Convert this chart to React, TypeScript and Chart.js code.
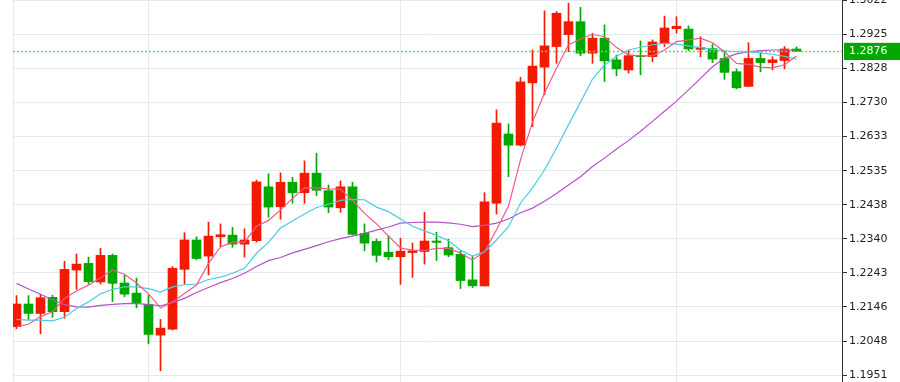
import React, { useEffect, useRef } from 'react';
import { Chart, registerables } from 'chart.js';

Chart.register(...registerables);

// ---- data ----
const opens = [
  1.2089, 1.2154, 1.2127, 1.2173, 1.2132, 1.2251, 1.2270, 1.2217, 1.2293, 1.2214,
  1.2185, 1.2153, 1.2065, 1.2082, 1.2253, 1.2337, 1.2291, 1.2346, 1.2351, 1.2325,
  1.2335, 1.2489, 1.2432, 1.2502, 1.2472, 1.2528, 1.2478, 1.2429, 1.2489, 1.2356,
  1.2333, 1.2302, 1.2289, 1.2301, 1.2304, 1.2334, 1.2315, 1.2296, 1.2223, 1.2206,
  1.2442, 1.2640, 1.2608, 1.2786, 1.2831, 1.2890, 1.2924, 1.2961, 1.2871, 1.2914,
  1.2852, 1.2823, 1.2864, 1.2861, 1.2899, 1.2941, 1.2940, 1.2882, 1.2884, 1.2856,
  1.2818, 1.2776, 1.2856, 1.2844, 1.2850, 1.2883,
];
const highs = [
  1.2178, 1.2178, 1.2182, 1.2179, 1.2276, 1.2297, 1.2288, 1.2313, 1.2297, 1.2236,
  1.2228, 1.2179, 1.2110, 1.2261, 1.2358, 1.2346, 1.2388, 1.2383, 1.2373, 1.2369,
  1.2508, 1.2526, 1.2529, 1.2516, 1.2563, 1.2585, 1.2494, 1.2506, 1.2502, 1.2383,
  1.2340, 1.2349, 1.2342, 1.2328, 1.2416, 1.2359, 1.2339, 1.2306, 1.2291, 1.2472,
  1.2709, 1.2669, 1.2802, 1.2880, 1.2992, 1.2990, 1.3014, 1.3002, 1.2928, 1.2952,
  1.2866, 1.2878, 1.2906, 1.2909, 1.2977, 1.2975, 1.2949, 1.2918, 1.2897, 1.2877,
  1.2826, 1.2901, 1.2874, 1.2861, 1.2890, 1.2889,
];
const lows = [
  1.2083, 1.2108, 1.2069, 1.2116, 1.2113, 1.2196, 1.2211, 1.2211, 1.2161, 1.2175,
  1.2143, 1.2040, 1.1963, 1.2080, 1.2211, 1.2280, 1.2237, 1.2318, 1.2316, 1.2288,
  1.2331, 1.2402, 1.2396, 1.2442, 1.2442, 1.2464, 1.2415, 1.2416, 1.2351, 1.2306,
  1.2274, 1.2280, 1.2210, 1.2230, 1.2268, 1.2278, 1.2289, 1.2198, 1.2201, 1.2205,
  1.2411, 1.2518, 1.2606, 1.2661, 1.2752, 1.2842, 1.2875, 1.2864, 1.2842, 1.2790,
  1.2806, 1.2814, 1.2809, 1.2847, 1.2890, 1.2928, 1.2878, 1.2861, 1.2844, 1.2796,
  1.2769, 1.2775, 1.2818, 1.2823, 1.2826, 1.2876,
];
const closes = [
  1.2154, 1.2127, 1.2172, 1.2132, 1.2253, 1.2268, 1.2218, 1.2293, 1.2213, 1.2182,
  1.2158, 1.2067, 1.2085, 1.2256, 1.2337, 1.2284, 1.2348, 1.2352, 1.2325, 1.2337,
  1.2503, 1.2431, 1.2502, 1.2472, 1.2528, 1.2479, 1.2431, 1.2489, 1.2353, 1.2328,
  1.2293, 1.2289, 1.2305, 1.2306, 1.2334, 1.2330, 1.2294, 1.2221, 1.2206, 1.2446,
  1.2671, 1.2608, 1.2789, 1.2834, 1.2892, 1.2985, 1.2961, 1.2871, 1.2914, 1.2849,
  1.2826, 1.2864, 1.2861, 1.2903, 1.2943, 1.2948, 1.2883, 1.2887, 1.2854, 1.2816,
  1.2772, 1.2856, 1.2844, 1.2852, 1.2883, 1.2876,
];
const ma5 = [
  1.2089, 1.2096, 1.2118, 1.2132, 1.2170, 1.2191, 1.2208, 1.2229, 1.2251, 1.2239,
  1.2214, 1.2183, 1.2143, 1.2160, 1.2184, 1.2208, 1.2270, 1.2317, 1.2331, 1.2331,
  1.2376, 1.2393, 1.2423, 1.2456, 1.2486, 1.2486, 1.2483, 1.2482, 1.2451, 1.2413,
  1.2383, 1.2348, 1.2314, 1.2308, 1.2307, 1.2313, 1.2313, 1.2299, 1.2280, 1.2303,
  1.2366, 1.2434, 1.2566, 1.2674, 1.2757, 1.2828, 1.2895, 1.2911, 1.2925, 1.2918,
  1.2887, 1.2866, 1.2863, 1.2863, 1.2880, 1.2904, 1.2909, 1.2914, 1.2901, 1.2875,
  1.2842, 1.2839, 1.2831, 1.2829, 1.2838, 1.2863,
];
const ma10 = [
  1.2110, 1.2108, 1.2108, 1.2106, 1.2116, 1.2141, 1.2160, 1.2183, 1.2196, 1.2203,
  1.2203, 1.2198, 1.2188, 1.2203, 1.2209, 1.2211, 1.2224, 1.2231, 1.2242, 1.2256,
  1.2299, 1.2330, 1.2371, 1.2391, 1.2411, 1.2430, 1.2439, 1.2450, 1.2453, 1.2452,
  1.2431, 1.2418, 1.2397, 1.2376, 1.2363, 1.2350, 1.2335, 1.2308, 1.2291, 1.2303,
  1.2337, 1.2375, 1.2442, 1.2486, 1.2537, 1.2600, 1.2666, 1.2731, 1.2797, 1.2837,
  1.2862, 1.2880, 1.2888, 1.2895, 1.2899, 1.2897, 1.2892, 1.2887, 1.2882, 1.2878,
  1.2875, 1.2875, 1.2872, 1.2868, 1.2862, 1.2854,
];
const ma20 = [
  1.2213, 1.2197, 1.2182, 1.2166, 1.2152, 1.2146, 1.2145, 1.2150, 1.2153, 1.2155,
  1.2156, 1.2152, 1.2149, 1.2158, 1.2170, 1.2187, 1.2201, 1.2215, 1.2227, 1.2242,
  1.2261, 1.2278, 1.2287, 1.2300, 1.2310, 1.2321, 1.2332, 1.2341, 1.2348, 1.2356,
  1.2365, 1.2374, 1.2385, 1.2387, 1.2388, 1.2388, 1.2386, 1.2382, 1.2375, 1.2379,
  1.2385, 1.2397, 1.2415, 1.2428, 1.2448, 1.2470, 1.2494, 1.2518, 1.2547, 1.2571,
  1.2597, 1.2621, 1.2648, 1.2676, 1.2705, 1.2734, 1.2766, 1.2799, 1.2832, 1.2857,
  1.2869, 1.2875, 1.2878, 1.2880, 1.2880, 1.2880,
];
const yTickValues = [
  1.1951, 1.2048, 1.2146, 1.2243, 1.2340, 1.2438, 1.2535, 1.2633, 1.2730, 1.2828, 1.2925, 1.3022,
];
const monthStartIndex = [11, 32, 55];
const currentPrice = 1.2876;

// ---- view range ----
const X_MIN = -0.2917;
const X_MAX = 68.7917;
const Y_MIN = 1.1931;
const Y_MAX = 1.3023;

// ---- styles ----
const UP_COLOR = '#f21a00';
const DOWN_COLOR = '#00a800';
const LABEL_GREEN = '#00a800';
const GRID = '#e2e9f0';
const MA5_COLOR = '#f0588a';
const MA10_COLOR = '#4ccbe0';
const MA20_COLOR = '#b452c8';
const PRICE_LINE = '#74cf74';

export default function App() {
  const ref = useRef<HTMLCanvasElement>(null);

  useEffect(() => {
    document.body.style.margin = '0';
    if (!ref.current) return;
    const idx = closes.map((_, i) => i);
    const colors = idx.map((i) => (closes[i] >= opens[i] ? UP_COLOR : DOWN_COLOR));
    const isPrice = (ctx: any) => !!ctx.tick && Math.abs(ctx.tick.value - currentPrice) < 1e-9;

    const lineDs = (values: number[], color: string) => ({
      type: 'line' as const,
      data: idx.map((i) => ({ x: i, y: values[i] })),
      borderColor: color,
      backgroundColor: color,
      borderWidth: 1.2,
      pointRadius: 0,
      tension: 0,
      fill: false,
    });

    const chart = new Chart(ref.current, {
      type: 'bar',
      data: {
        datasets: [
          lineDs(ma5, MA5_COLOR),
          lineDs(ma10, MA10_COLOR),
          lineDs(ma20, MA20_COLOR),
          {
            type: 'line',
            data: [
              { x: X_MIN, y: currentPrice },
              { x: X_MAX, y: currentPrice },
            ],
            borderColor: PRICE_LINE,
            borderWidth: 1.5,
            borderDash: [2, 2],
            pointRadius: 0,
            fill: false,
          } as any,
          {
            type: 'bar',
            data: idx.map((i) => ({ x: i, y: [opens[i], closes[i]] })),
            backgroundColor: colors,
            borderWidth: 0,
            barThickness: 9,
            minBarLength: 1,
            grouped: false,
            clip: 0,
          } as any,
          {
            type: 'bar',
            data: idx.map((i) => ({ x: i, y: [lows[i], highs[i]] })),
            backgroundColor: colors,
            borderWidth: 0,
            barThickness: 1,
            grouped: false,
            clip: 0,
          } as any,
        ],
      },
      options: {
        responsive: false,
        animation: false,
        events: [],
        layout: { padding: { left: 13, right: 0, top: 0, bottom: 0 } },
        plugins: { legend: { display: false }, tooltip: { enabled: false } },
        scales: {
          x: {
            type: 'linear',
            min: X_MIN,
            max: X_MAX,
            offset: false,
            grid: { color: GRID, drawTicks: false, offset: false, lineWidth: 1 },
            border: { display: false },
            ticks: { display: false },
            afterBuildTicks: (s: any) => {
              s.ticks = [X_MIN, ...monthStartIndex].map((v) => ({ value: v }));
            },
          },
          y: {
            type: 'linear',
            position: 'right',
            min: Y_MIN,
            max: Y_MAX,
            beginAtZero: false,
            grid: {
              color: (ctx: any) => (isPrice(ctx) ? 'rgba(0,0,0,0)' : GRID),
              tickColor: (ctx: any) => (isPrice(ctx) ? 'rgba(0,0,0,0)' : '#333333'),
              tickLength: 5,
              drawTicks: true,
              lineWidth: 1,
            },
            border: { display: true, color: '#333333', width: 1 },
            ticks: {
              autoSkip: false,
              padding: 2,
              font: { family: 'DejaVu Sans', size: 11 },
              color: (ctx: any) => (isPrice(ctx) ? '#ffffff' : '#222222'),
              callback: (v: any) => Number(v).toFixed(4),
              showLabelBackdrop: (ctx: any) => isPrice(ctx),
              backdropColor: LABEL_GREEN,
              backdropPadding: { top: 2, bottom: 2, left: 5, right: 14 },
            },
            afterBuildTicks: (s: any) => {
              s.ticks = [...yTickValues, currentPrice]
                .sort((a, b) => a - b)
                .map((v) => ({ value: v }));
            },
            afterFit: (s: any) => {
              s.width = 58;
              s.paddingTop = 0;
              s.paddingBottom = 0;
            },
          },
        },
      } as any,
    });
    return () => chart.destroy();
  }, []);

  return (
    <div style={{ width: 900, height: 382, position: 'relative', background: '#ffffff' }}>
      <canvas ref={ref} width={900} height={382} style={{ display: 'block' }} />
    </div>
  );
}
